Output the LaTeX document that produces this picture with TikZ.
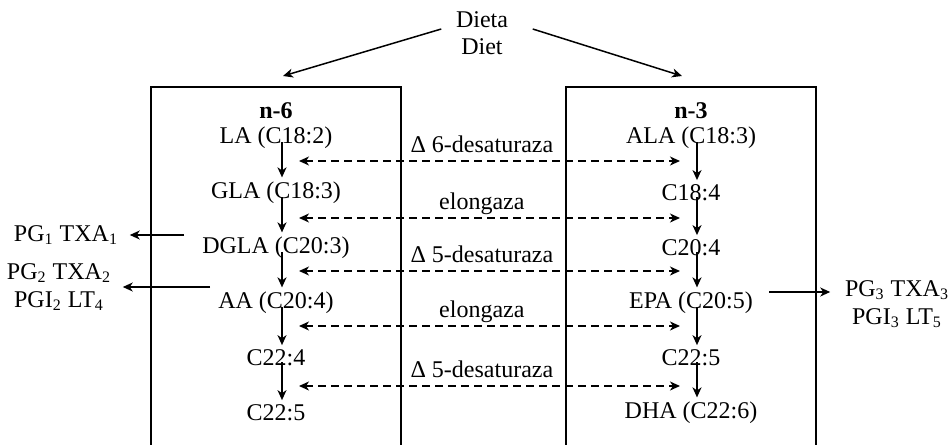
\documentclass[tikz,border=0pt]{standalone}
\usepackage{fontspec}
\setmainfont{Liberation Serif}
\usetikzlibrary{arrows.meta}

\begin{document}
\begin{tikzpicture}[x=0.5pt,y=-0.5pt,node distance=27.5pt,line width=0.75pt,
  acid/.style={inner sep=2pt,font=\fontsize{12}{13.5}\selectfont},
  prod/.style={inner sep=2pt,align=center,font=\fontsize{12}{14}\selectfont},
  arr/.style={-{Stealth[length=5pt,width=4.5pt,inset=1.5pt]}},
  enz/.style={{Stealth[length=5pt,width=4.5pt,inset=1.5pt]}-{Stealth[length=5pt,width=4.5pt,inset=1.5pt]},
    dash pattern=on 4pt off 2.5pt}]

  \useasboundingbox (0,0) rectangle (950,445);

  % the two boxes, open at the bottom
  \draw (151,446) |- (401,87) -- (401,446);
  \draw (566,446) |- (816,87) -- (816,446);

  % diet
  \node[acid,align=center] (diet) at (482,33) {Dieta\\Diet};
  \coordinate (dl) at (283,76);
  \coordinate (dr) at (682,76);
  \draw[arr] ([shift={(-5pt,2pt)}]diet.west) -- (dl);
  \draw[arr] ([shift={(10pt,2pt)}]diet.east) -- (dr);

  % n-6 chain
  \node[acid] (n6) at (276,111) {\textbf{n-6}};
  \node[acid] (l1) at (276,138) {LA (C18:2)};
  \node[acid] (l2) [below of=l1] {GLA (C18:3)};
  \node[acid] (l3) [below of=l2] {DGLA (C20:3)};
  \node[acid] (l4) [below of=l3] {AA (C20:4)};
  \node[acid] (l5) [below of=l4] {C22:4};
  \node[acid] (l6) [below of=l5] {C22:5};

  % n-3 chain
  \node[acid] (n3) at (691,111) {\textbf{n-3}};
  \node[acid] (r1) at (691,138) {ALA (C18:3)};
  \node[acid] (r2) [below of=r1] {C18:4};
  \node[acid] (r3) [below of=r2] {C20:4};
  \node[acid] (r4) [below of=r3] {EPA (C20:5)};
  \node[acid] (r5) [below of=r4] {C22:5};
  \node[acid] (r6) [below of=r5] {DHA (C22:6)};

  \foreach \a/\b in {l1/l2,l2/l3,l3/l4,l4/l5,l5/l6,r1/r2,r2/r3,r3/r4,r4/r5,r5/r6}
    \draw[arr] ([shift={(3pt,-2pt)}]\a.center) -- ([xshift=3pt]\b.north);

  % enzymes
  \foreach \i/\y/\t in {1/161/{Δ 6-desaturaza},2/218/elongaza,3/271/{Δ 5-desaturaza},
      4/326/elongaza,5/386/{Δ 5-desaturaza}} {
    \coordinate (a\i) at (299,\y);
    \coordinate (b\i) at (680,\y);
    \draw[enz] (a\i) -- node[acid,anchor=base,yshift=4.5pt,pos=0.48] {\t} (b\i);
  }

  % eicosanoids
  \node[prod] (pg1) at (66,235) {PG\textsubscript{1} TXA\textsubscript{1}};
  \node[prod] (pg2) at (59,287) {PG\textsubscript{2} TXA\textsubscript{2}\\PGI\textsubscript{2} LT\textsubscript{4}};
  \node[prod] (pg3) at (897,304) {PG\textsubscript{3} TXA\textsubscript{3}\\PGI\textsubscript{3} LT\textsubscript{5}};
  \coordinate (p1) at (184,235);
  \coordinate (p2) at (210,287);
  \coordinate (p3) at (769,292);
  \draw[arr,shorten >=3.5pt] (p1) -- (pg1.east);
  \draw[arr,shorten >=3.5pt] (p2) -- (p2 -| pg2.east);
  \draw[arr,shorten >=5pt] (p3) -- (p3 -| pg3.west);

\end{tikzpicture}
\end{document}
